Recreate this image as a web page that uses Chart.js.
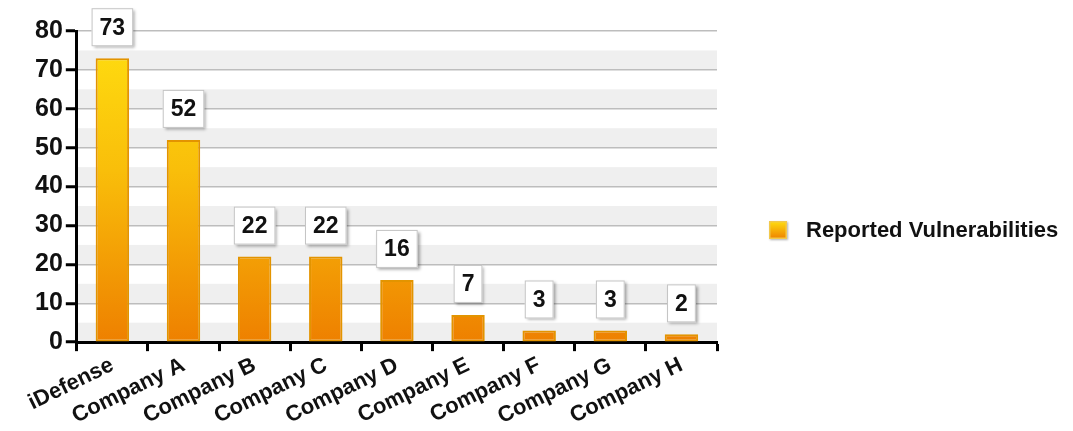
<!DOCTYPE html>
<html>
<head>
<meta charset="utf-8">
<script src="https://cdn.jsdelivr.net/npm/chart.js@4.4.1/dist/chart.umd.min.js"></script>
<style>
html,body{margin:0;padding:0;background:#fff;}
#wrap{width:1073px;height:431px;}
</style>
</head>
<body>
<div id="wrap"><canvas id="c" width="1073" height="431"></canvas></div>
<script>
const categories = ['iDefense','Company A','Company B','Company C','Company D','Company E','Company F','Company G','Company H'];
const seriesName = 'Reported Vulnerabilities';
const vulnerabilities = [73, 52, 22, 22, 16, 7, 3, 3, 2];
const yTickValues = [0, 10, 20, 30, 40, 50, 60, 70, 80];

const FONT = '"Liberation Sans", Arial, sans-serif';

function barGradient(ctx) {
  const chart = ctx.chart;
  const area = chart.chartArea;
  if (!area) return '#F5B400';
  const el = ctx.element;
  const y0 = area.bottom;
  const y1 = (el && isFinite(el.y)) ? el.y : area.top;
  const g = chart.ctx.createLinearGradient(0, y1, 0, y0);
  g.addColorStop(0, '#FFDF10');
  g.addColorStop(0.45, '#F9BE0A');
  g.addColorStop(1, '#EE8000');
  return g;
}

const bandsPlugin = {
  id: 'bands',
  beforeDraw(chart) {
    const {ctx, chartArea} = chart;
    const y = chart.scales.y;
    ctx.save();
    ctx.fillStyle = '#EFEFEF';
    for (let v = 0; v < 80; v += 10) {
      const top = y.getPixelForValue(v + 5);
      const bot = y.getPixelForValue(v);
      ctx.fillRect(chartArea.left, top, chartArea.right - chartArea.left, bot - top);
    }
    ctx.restore();
  }
};

const labelPlugin = {
  id: 'valueBoxes',
  afterDatasetsDraw(chart) {
    const {ctx} = chart;
    const meta = chart.getDatasetMeta(0);
    ctx.save();
    ctx.font = 'bold 23px ' + FONT;
    ctx.textAlign = 'center';
    ctx.textBaseline = 'middle';
    meta.data.forEach((bar, i) => {
      const txt = String(chart.data.datasets[0].data[i]);
      const tw = ctx.measureText(txt).width;
      const w = tw + 16;
      const h = 38;
      const cx = bar.x;
      const bottom = bar.y - 12;
      const x = cx - w / 2, yy = bottom - h;
      ctx.save();
      ctx.shadowColor = 'rgba(0,0,0,0.35)';
      ctx.shadowBlur = 3;
      ctx.shadowOffsetX = 2;
      ctx.shadowOffsetY = 2;
      ctx.fillStyle = '#FFFFFF';
      ctx.fillRect(x, yy, w, h);
      ctx.restore();
      ctx.strokeStyle = '#C4C4C4';
      ctx.lineWidth = 1;
      ctx.strokeRect(x + 0.5, yy + 0.5, w - 1, h - 1);
      ctx.fillStyle = '#111111';
      ctx.fillText(txt, cx, yy + h / 2 + 1);
    });
    ctx.restore();
  }
};

const legendPlugin = {
  id: 'customLegend',
  afterDraw(chart) {
    const {ctx} = chart;
    ctx.save();
    const bx = 769, by = 221, bs = 18;
    const g = ctx.createLinearGradient(0, by, 0, by + bs);
    g.addColorStop(0, '#FFDF10');
    g.addColorStop(1, '#EE8000');
    ctx.shadowColor = 'rgba(0,0,0,0.3)';
    ctx.shadowBlur = 2;
    ctx.shadowOffsetX = 1;
    ctx.shadowOffsetY = 1;
    ctx.fillStyle = g;
    ctx.fillRect(bx, by, bs, bs);
    ctx.shadowColor = 'transparent';
    ctx.strokeStyle = '#F2C94C';
    ctx.lineWidth = 1.5;
    ctx.strokeRect(bx + 0.75, by + 0.75, bs - 1.5, bs - 1.5);
    ctx.font = 'bold 22px ' + FONT;
    ctx.fillStyle = '#111111';
    ctx.textAlign = 'left';
    ctx.textBaseline = 'middle';
    ctx.fillText(seriesName, 806, 231);
    ctx.restore();
  }
};

new Chart(document.getElementById('c'), {
  type: 'bar',
  data: {
    labels: categories,
    datasets: [{
      label: seriesName,
      data: vulnerabilities,
      backgroundColor: barGradient,
      borderColor: '#E39400',
      borderWidth: 2,
      borderSkipped: false,
      categoryPercentage: 1.0,
      barPercentage: 0.47
    }]
  },
  options: {
    responsive: false,
    animation: false,
    devicePixelRatio: 1,
    layout: { padding: { left: 32, right: 356, top: 31, bottom: 0 } },
    plugins: {
      legend: { display: false },
      tooltip: { enabled: false }
    },
    scales: {
      x: {
        grid: {
          offset: true,
          drawOnChartArea: false,
          drawTicks: true,
          tickLength: 9,
          tickColor: '#000',
          tickWidth: 3
        },
        border: { color: '#000', width: 3 },
        ticks: {
          autoSkip: false,
          minRotation: 26,
          maxRotation: 26,
          padding: 1,
          color: '#111',
          font: { family: FONT, size: 22, weight: 'bold' }
        }
      },
      y: {
        min: 0,
        max: 80,
        afterBuildTicks(scale) {
          const t = [];
          for (let v = 0; v <= 80; v += 5) t.push({ value: v });
          scale.ticks = t;
        },
        grid: {
          color: '#BDBDBD',
          lineWidth: 1.5,
          drawTicks: true,
          tickLength: 11,
          tickWidth: 3,
          tickColor: (c) => (c.tick && c.tick.value % 10 === 0) ? '#000' : 'rgba(0,0,0,0)'
        },
        border: { color: '#000', width: 3 },
        ticks: {
          padding: 3,
          color: '#111',
          font: { family: FONT, size: 25, weight: 'bold' },
          callback: (v) => yTickValues.includes(v) ? String(v) : ''
        }
      }
    }
  },
  plugins: [bandsPlugin, labelPlugin, legendPlugin]
});
</script>
</body>
</html>
